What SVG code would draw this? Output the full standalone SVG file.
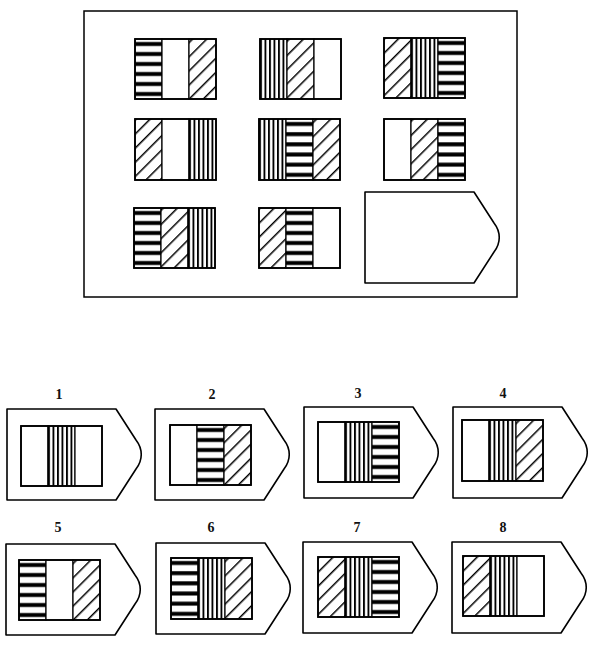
<svg xmlns="http://www.w3.org/2000/svg" xmlns:xlink="http://www.w3.org/1999/xlink" width="596" height="649" viewBox="0 0 596 649">
<style>
.frame{fill:#fff;stroke:#000;stroke-width:1.5}
.pent{fill:#fff;stroke:#000;stroke-width:1.6;stroke-linejoin:round}
.s{stroke:#000;stroke-width:1.2}
.b{fill:#fff}
.h{fill:url(#hz)}
.v{fill:url(#vt)}
.d{fill:url(#dg)}
.box{fill:none;stroke:#000;stroke-width:1.8}
.lbl{font-family:"Liberation Serif","DejaVu Serif",serif;font-size:14px;font-weight:bold;text-anchor:middle;fill:#111}
</style>
<defs>
<pattern id="hz" patternUnits="objectBoundingBox" width="1" height="0.16667">
<rect x="0" y="0" width="200" height="20" fill="#fff"/>
<rect x="0" y="3" width="200" height="4" fill="#000"/>
</pattern>
<pattern id="vt" patternUnits="objectBoundingBox" width="0.16667" height="1">
<rect x="0" y="0" width="20" height="200" fill="#fff"/>
<rect x="0" y="0" width="1.9" height="200" fill="#000"/>
</pattern>
<pattern id="dg" patternUnits="userSpaceOnUse" width="10" height="10" patternTransform="rotate(45)">
<rect x="0" y="0" width="10" height="10" fill="#fff"/>
<rect x="0" y="0" width="1.5" height="10" fill="#000"/>
</pattern>
<path id="pentshape" d="M0,0 H109 L129,31 C136,40 136,51 129,60 L109,91 H0 Z"/>
</defs>
<rect width="596" height="649" fill="#fff"/>
<g id="matrix">
<rect class="frame" x="84" y="11" width="433" height="286"/>
<g id="m11" transform="translate(135,39)"><rect class="s h" x="0" y="0" width="27" height="60"/><rect class="s b" x="27" y="0" width="27" height="60"/><rect class="s d" x="54" y="0" width="27" height="60"/><rect class="box" width="81" height="60"/></g>
<g id="m12" transform="translate(260,39)"><rect class="s v" x="0" y="0" width="27" height="60"/><rect class="s d" x="27" y="0" width="27" height="60"/><rect class="s b" x="54" y="0" width="27" height="60"/><rect class="box" width="81" height="60"/></g>
<g id="m13" transform="translate(384,38)"><rect class="s d" x="0" y="0" width="27" height="60"/><rect class="s v" x="27" y="0" width="27" height="60"/><rect class="s h" x="54" y="0" width="27" height="60"/><rect class="box" width="81" height="60"/></g>
<g id="m21" transform="translate(135,119)"><rect class="s d" x="0" y="0" width="27" height="61"/><rect class="s b" x="27" y="0" width="27" height="61"/><rect class="s v" x="54" y="0" width="27" height="61"/><rect class="box" width="81" height="61"/></g>
<g id="m22" transform="translate(259,119)"><rect class="s v" x="0" y="0" width="27" height="61"/><rect class="s h" x="27" y="0" width="27" height="61"/><rect class="s d" x="54" y="0" width="27" height="61"/><rect class="box" width="81" height="61"/></g>
<g id="m23" transform="translate(384,119)"><rect class="s b" x="0" y="0" width="27" height="61"/><rect class="s d" x="27" y="0" width="27" height="61"/><rect class="s h" x="54" y="0" width="27" height="61"/><rect class="box" width="81" height="61"/></g>
<g id="m31" transform="translate(134,208)"><rect class="s h" x="0" y="0" width="27" height="60"/><rect class="s d" x="27" y="0" width="27" height="60"/><rect class="s v" x="54" y="0" width="27" height="60"/><rect class="box" width="81" height="60"/></g>
<g id="m32" transform="translate(259,208)"><rect class="s d" x="0" y="0" width="27" height="60"/><rect class="s h" x="27" y="0" width="27" height="60"/><rect class="s b" x="54" y="0" width="27" height="60"/><rect class="box" width="81" height="60"/></g>
<g id="m33"><use xlink:href="#pentshape" href="#pentshape" class="pent" x="365" y="192"/></g>
</g>
<g id="opt1"><text class="lbl" x="59" y="399">1</text><use xlink:href="#pentshape" href="#pentshape" class="pent" x="7" y="409"/><g transform="translate(21,426)"><rect class="s b" x="0" y="0" width="27" height="60"/><rect class="s v" x="27" y="0" width="27" height="60"/><rect class="s b" x="54" y="0" width="27" height="60"/><rect class="box" width="81" height="60"/></g></g>
<g id="opt2"><text class="lbl" x="212" y="399">2</text><use xlink:href="#pentshape" href="#pentshape" class="pent" x="155" y="409"/><g transform="translate(170,425)"><rect class="s b" x="0" y="0" width="27" height="60"/><rect class="s h" x="27" y="0" width="27" height="60"/><rect class="s d" x="54" y="0" width="27" height="60"/><rect class="box" width="81" height="60"/></g></g>
<g id="opt3"><text class="lbl" x="358" y="398">3</text><use xlink:href="#pentshape" href="#pentshape" class="pent" x="304" y="407"/><g transform="translate(318,422)"><rect class="s b" x="0" y="0" width="27" height="60"/><rect class="s v" x="27" y="0" width="27" height="60"/><rect class="s h" x="54" y="0" width="27" height="60"/><rect class="box" width="81" height="60"/></g></g>
<g id="opt4"><text class="lbl" x="503" y="398">4</text><use xlink:href="#pentshape" href="#pentshape" class="pent" x="453" y="407"/><g transform="translate(462,420)"><rect class="s b" x="0" y="0" width="27" height="61"/><rect class="s v" x="27" y="0" width="27" height="61"/><rect class="s d" x="54" y="0" width="27" height="61"/><rect class="box" width="81" height="61"/></g></g>
<g id="opt5"><text class="lbl" x="58" y="532">5</text><use xlink:href="#pentshape" href="#pentshape" class="pent" x="6" y="544"/><g transform="translate(19,560)"><rect class="s h" x="0" y="0" width="27" height="60"/><rect class="s b" x="27" y="0" width="27" height="60"/><rect class="s d" x="54" y="0" width="27" height="60"/><rect class="box" width="81" height="60"/></g></g>
<g id="opt6"><text class="lbl" x="211" y="532">6</text><use xlink:href="#pentshape" href="#pentshape" class="pent" x="156" y="543"/><g transform="translate(171,558)"><rect class="s h" x="0" y="0" width="27" height="61"/><rect class="s v" x="27" y="0" width="27" height="61"/><rect class="s d" x="54" y="0" width="27" height="61"/><rect class="box" width="81" height="61"/></g></g>
<g id="opt7"><text class="lbl" x="357" y="532">7</text><use xlink:href="#pentshape" href="#pentshape" class="pent" x="303" y="542"/><g transform="translate(318,557)"><rect class="s d" x="0" y="0" width="27" height="60"/><rect class="s v" x="27" y="0" width="27" height="60"/><rect class="s h" x="54" y="0" width="27" height="60"/><rect class="box" width="81" height="60"/></g></g>
<g id="opt8"><text class="lbl" x="503" y="532">8</text><use xlink:href="#pentshape" href="#pentshape" class="pent" x="452" y="542"/><g transform="translate(463,556)"><rect class="s d" x="0" y="0" width="27" height="60"/><rect class="s v" x="27" y="0" width="27" height="60"/><rect class="s b" x="54" y="0" width="27" height="60"/><rect class="box" width="81" height="60"/></g></g>
<g id="connectors"/>
</svg>
